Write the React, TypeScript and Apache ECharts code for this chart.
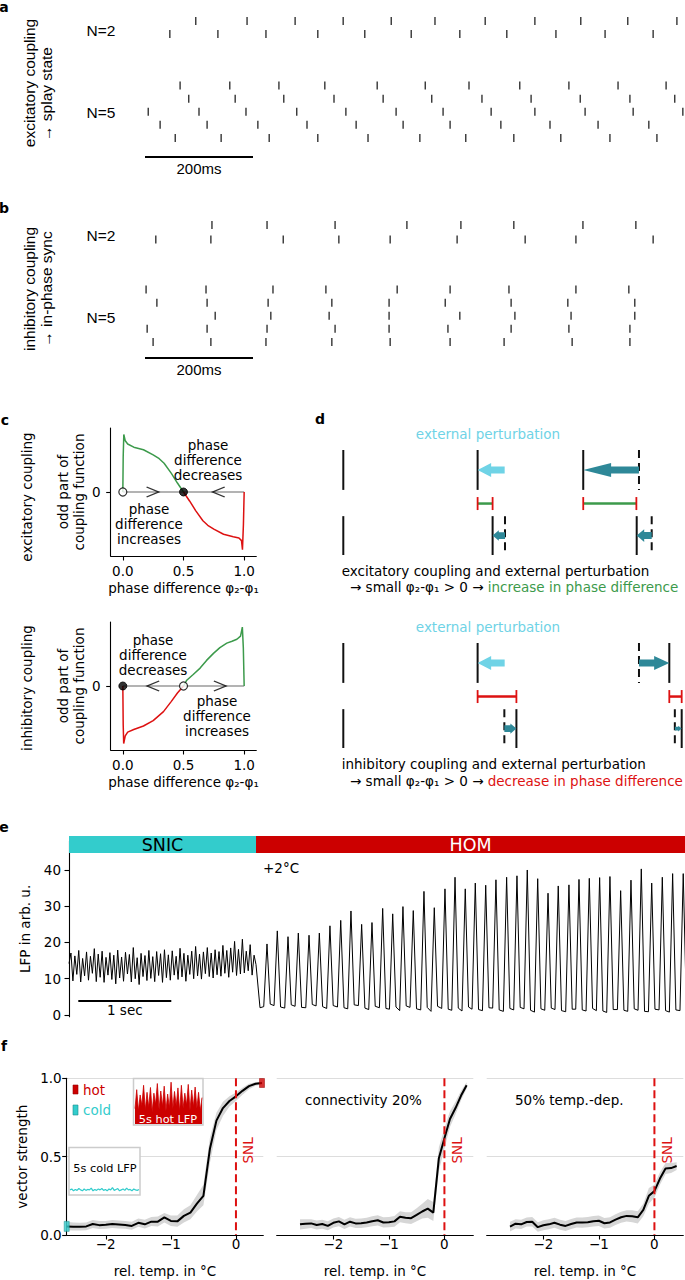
import React, { useEffect, useRef } from 'react';
import * as echarts from 'echarts';

const FONT = 'DejaVu Sans';
const AFONT = 'Liberation Sans';
const GREEN = '#3c9a4b';
const RED = '#dd1111';
const CYAN = '#6fd3e6';
const TEAL = '#2e8898';
const SNIC_C = '#33cccc';
const HOM_C = '#cc0000';

// ---------- panel a / b : spike times in ms ----------
const RASTER_MS = 1000;
const SCALE_MS = 200;
const aN2 = [
  [94, 189, 278, 367, 456, 537, 630, 722, 807, 894, 985],
  [46, 135, 224, 320, 407, 493, 583, 670, 761, 852, 941],
];
const aN5 = [
  [65, 157, 248, 333, 430, 519, 600, 694, 785, 876, 965],
  [81, 167, 257, 350, 441, 531, 624, 715, 806, 898, 981],
  [6, 100, 187, 281, 372, 465, 552, 641, 722, 815, 904, 996],
  [28, 115, 209, 300, 391, 478, 565, 659, 750, 839, 933],
  [56, 141, 230, 320, 413, 509, 594, 683, 770, 861, 948],
];
const bN2 = [
  [124, 226, 352, 485, 585, 683, 811, 909],
  [20, 122, 256, 359, 454, 578, 704, 798, 941],
];
const bN5 = [
  [2, 113, 237, 335, 467, 565, 674, 798, 896],
  [22, 115, 228, 346, 452, 556, 678, 783, 907],
  [130, 233, 341, 452, 583, 685, 789, 907],
  [4, 115, 226, 352, 452, 561, 678, 785, 898],
  [15, 122, 224, 346, 454, 565, 665, 791, 898],
];

// ---------- panel c : odd part of coupling function ----------
const cTicks = [0, 0.5, 1];
const cExcGreen = [[0, 0], [0.003, 0.55], [0.008, 0.9], [0.02, 0.8], [0.04, 0.75], [0.09, 0.7], [0.17, 0.66], [0.25, 0.58], [0.3, 0.52], [0.34, 0.45], [0.4, 0.29], [0.45, 0.14], [0.5, 0]];
const cExcRed = [[0.5, 0], [0.55, -0.14], [0.6, -0.29], [0.66, -0.45], [0.7, -0.52], [0.75, -0.58], [0.83, -0.66], [0.91, -0.7], [0.957, -0.72], [0.978, -0.76], [0.986, -0.9], [0.994, -0.5], [1.0, 0]];
const cInhRed = [[0, 0], [0.003, -0.6], [0.007, -0.9], [0.02, -0.78], [0.04, -0.72], [0.09, -0.68], [0.17, -0.625], [0.25, -0.54], [0.335, -0.4], [0.4, -0.24], [0.45, -0.11], [0.5, 0]];
const cInhGreen = [[0.5, 0], [0.527, 0.09], [0.58, 0.18], [0.637, 0.28], [0.69, 0.4], [0.747, 0.51], [0.8, 0.6], [0.857, 0.67], [0.9, 0.7], [0.94, 0.73], [0.97, 0.78], [0.985, 0.92], [0.993, 0.6], [1.0, 0]];
const cZeroLine = [[0, 0], [1, 0]];
const cExcOpen = [[0, 0]];
const cExcFilled = [[0.5, 0]];
const cInhOpen = [[0.5, 0]];
const cInhFilled = [[0, 0]];
const cExcRight = [[0.245, 0]];
const cExcLeft = [[0.79, 0]];
const cInhLeft = [[0.25, 0]];
const cInhRight = [[0.8, 0]];

// ---------- panel d : schematic spike positions (fraction of period) ----------
const dExcTop = [0, 0.412, 0.736];
const dExcTopGhost = [0.907];
const dExcBot = [0, 0.458, 0.9];
const dExcBotGhost = [0.496, 0.946];
const dExcIntervals = [[0.412, 0.458], [0.736, 0.899]];
const dExcExtArrow = [0.495, 0.412];
const dExcTopArrows = [[0.907, 0.736]];
const dExcBotArrows = [[0.496, 0.458], [0.946, 0.9]];

const dInhTop = [0, 0.412, 1.0];
const dInhTopGhost = [0.907];
const dInhBot = [0, 0.531, 1.038];
const dInhBotGhost = [0.494, 1.017];
const dInhIntervals = [[0.412, 0.531], [1.0, 1.038]];
const dInhExtArrow = [0.495, 0.412];
const dInhTopArrows = [[0.907, 1.0]];
const dInhBotArrows = [[0.494, 0.531], [1.017, 1.038]];

const D_ROW_TOP = [0, 0.38];
const D_ROW_BOT = [0.63, 1.0];
const D_MID = 0.51;
const D_ARROW_TOP = 0.19;
const D_ARROW_BOT = 0.815;

// ---------- panel e : LFP ----------
const E_T_MAX = 6.624;
const eStateStart = [0, 2.011];
const eStateEnd = [2.011, 6.624];
const eStateNames = ['SNIC', 'HOM'];
const eStateFill = [SNIC_C, HOM_C];
const eStateText = ['#000', '#fff'];
const eTicks = [0, 10, 20, 30, 40];
const SNIC_END = 2.011;
const snicLFP = [
  14.2, 17.1, 9.4, 16.3, 11.2, 17.8, 9.1, 15.6, 10.8, 17.4,
  9.6, 16.2, 11.5, 18.3, 9.2, 16.8, 10.4, 17.6, 9.0, 15.9,
  11.0, 17.2, 9.8, 16.5, 8.6, 17.9, 10.2, 16.0, 9.3, 17.3,
  11.3, 16.7, 9.1, 18.6, 10.0, 15.8, 8.4, 17.0, 10.6, 16.4,
  9.5, 17.8, 10.1, 16.1, 9.2, 17.5, 10.9, 16.9, 9.0, 18.0,
  10.3, 16.6, 9.6, 17.7, 11.0, 16.2, 9.8, 18.4, 10.5, 17.0,
  9.3, 16.5, 11.2, 17.6, 10.0, 18.9, 10.8, 16.8, 9.9, 17.4,
  11.4, 18.6, 10.6, 17.1, 10.2, 18.0, 11.1, 17.5, 10.7, 19.2,
  11.5, 17.8, 10.4, 18.5, 11.8, 20.3, 10.9, 18.1, 11.3, 20.9,
  11.6, 17.6, 12.2, 19.4, 11.0, 16.5, 13.9,
];
const homDrop = [2.054, 2.0];
const homPeakT = [2.129, 2.24, 2.355, 2.466, 2.581, 2.692, 2.806, 2.922, 3.032, 3.147, 3.258, 3.373, 3.481, 3.591, 3.702, 3.817, 3.928, 4.043, 4.151, 4.261, 4.369, 4.481, 4.591, 4.706, 4.817, 4.928, 5.04, 5.151, 5.261, 5.376, 5.484, 5.595, 5.706, 5.817, 5.932, 6.043, 6.154, 6.266, 6.38, 6.491, 6.605];
const homPeakV = [19.6, 23.2, 21.6, 22.6, 22.0, 22.6, 24.6, 26.1, 28.7, 25.0, 25.5, 29.4, 27.9, 29.9, 28.8, 34.1, 29.6, 34.8, 38.0, 34.8, 36.4, 35.8, 37.3, 38.0, 38.4, 40.0, 37.6, 33.6, 35.6, 35.9, 37.4, 37.7, 37.9, 38.2, 34.3, 37.2, 40.3, 36.4, 38.0, 39.0, 39.0];
const homLowBefore = [2.3, 2.6, 1.9, 2.4, 2.0, 2.5, 1.8, 2.2, 1.7, 2.6, 1.5, 2.0, 1.6, 1.2, 2.1, 1.4, 1.0, 1.8, 1.3, 1.1, 1.6, 1.2, 1.9, 1.0, 1.4, 1.7, 0.8, 1.3, 1.5, 0.9, 1.6, 1.1, 1.2, 0.7, 1.5, 1.0, 1.3, 0.9, 1.4, 0.8, 1.2];
const homLowAfter = [3.0, 2.2, 2.8, 2.1, 2.9, 2.3, 2.6, 2.0, 2.8, 1.9, 2.4, 1.8, 2.2, 2.5, 1.7, 2.1, 2.4, 1.6, 1.9, 2.2, 1.5, 2.0, 1.4, 1.8, 2.1, 1.3, 1.7, 1.9, 1.2, 1.6, 1.4, 1.8, 1.1, 1.5, 1.3, 1.7, 1.0, 1.6, 1.2, 1.4, 1.1];
const HOM_RISE = 0.035;
const HOM_FALL = 0.035;
const E_BAR_START = 0.1;
const E_BAR_LEN = 1;

// ---------- panel f : vector strength ----------
const fTemps = [-2.6, -2.5, -2.4, -2.3, -2.2, -2.1, -2.0, -1.9, -1.8, -1.7, -1.6, -1.5, -1.4, -1.3, -1.2, -1.1, -1.0, -0.9, -0.8, -0.7, -0.6, -0.5, -0.4, -0.3, -0.2, -0.1, 0.0, 0.1, 0.2, 0.3, 0.4];
const fXTicks = [-2, -1, 0];
const f1Mean = [0.055, 0.053, 0.052, 0.055, 0.07, 0.063, 0.065, 0.07, 0.067, 0.064, 0.058, 0.078, 0.068, 0.085, 0.085, 0.112, 0.09, 0.087, 0.122, 0.143, 0.2, 0.25, 0.55, 0.73, 0.81, 0.855, 0.885, 0.92, 0.95, 0.965, 0.97];
const f1Upper = [0.085, 0.08, 0.078, 0.08, 0.095, 0.09, 0.09, 0.095, 0.093, 0.09, 0.085, 0.105, 0.098, 0.115, 0.118, 0.14, 0.125, 0.125, 0.165, 0.19, 0.255, 0.32, 0.62, 0.78, 0.85, 0.885, 0.91, 0.94, 0.965, 0.975, 0.98];
const f1Lower = [0.03, 0.028, 0.028, 0.03, 0.045, 0.038, 0.04, 0.045, 0.042, 0.04, 0.033, 0.052, 0.042, 0.058, 0.055, 0.08, 0.058, 0.052, 0.08, 0.1, 0.15, 0.19, 0.46, 0.67, 0.76, 0.82, 0.855, 0.895, 0.93, 0.952, 0.96];
const f2Mean = [0.068, 0.072, 0.074, 0.064, 0.07, 0.058, 0.078, 0.087, 0.068, 0.085, 0.074, 0.075, 0.08, 0.088, 0.094, 0.08, 0.082, 0.087, 0.117, 0.11, 0.107, 0.128, 0.15, 0.168, 0.143, 0.49, 0.617, 0.74, 0.81, 0.89, 0.955];
const f2Upper = [0.1, 0.1, 0.1, 0.092, 0.098, 0.088, 0.105, 0.115, 0.097, 0.113, 0.103, 0.105, 0.11, 0.12, 0.126, 0.113, 0.115, 0.122, 0.152, 0.145, 0.145, 0.17, 0.2, 0.23, 0.21, 0.56, 0.68, 0.79, 0.85, 0.92, 0.975];
const f2Lower = [0.035, 0.04, 0.044, 0.035, 0.04, 0.03, 0.048, 0.056, 0.038, 0.055, 0.045, 0.045, 0.05, 0.056, 0.06, 0.048, 0.05, 0.052, 0.082, 0.075, 0.07, 0.088, 0.105, 0.11, 0.09, 0.41, 0.55, 0.69, 0.77, 0.86, 0.935];
const f3Mean = [0.053, 0.072, 0.068, 0.083, 0.085, 0.05, 0.062, 0.068, 0.078, 0.066, 0.058, 0.07, 0.08, 0.079, 0.082, 0.088, 0.091, 0.075, 0.08, 0.098, 0.113, 0.122, 0.12, 0.113, 0.16, 0.25, 0.28, 0.36, 0.425, 0.427, 0.44];
const f3Upper = [0.085, 0.1, 0.097, 0.112, 0.115, 0.082, 0.094, 0.1, 0.11, 0.098, 0.09, 0.102, 0.112, 0.111, 0.115, 0.121, 0.125, 0.108, 0.113, 0.132, 0.148, 0.158, 0.158, 0.152, 0.2, 0.3, 0.32, 0.4, 0.46, 0.46, 0.465];
const f3Lower = [0.022, 0.042, 0.038, 0.054, 0.055, 0.02, 0.03, 0.036, 0.046, 0.034, 0.026, 0.038, 0.048, 0.047, 0.049, 0.055, 0.057, 0.042, 0.047, 0.064, 0.078, 0.086, 0.082, 0.074, 0.12, 0.2, 0.24, 0.32, 0.39, 0.395, 0.415];
const SNL_T = 0;
const SNL_LABEL_Y = 0.54;
const hotLFP = [0.35, 0.78, 0.3, 0.66, 0.42, 0.88, 0.32, 0.72, 0.38, 0.83, 0.28, 0.7, 0.45, 0.92, 0.33, 0.75, 0.4, 0.86, 0.3, 0.68, 0.37, 0.95, 0.34, 0.74, 0.41, 0.82, 0.29, 0.88, 0.36, 0.7, 0.43, 0.9, 0.31, 0.77, 0.39, 0.84, 0.35, 0.72, 0.3, 0.6];
const coldLFP = [0.1, 0.12, 0.08, 0.11, 0.09, 0.13, 0.1, 0.08, 0.12, 0.09, 0.11, 0.1, 0.14, 0.08, 0.11, 0.09, 0.12, 0.1, 0.13, 0.09, 0.11, 0.08, 0.12, 0.1, 0.15, 0.09, 0.11, 0.13, 0.08, 0.1, 0.12, 0.09, 0.14, 0.1, 0.11, 0.08, 0.12, 0.1, 0.09, 0.11];

// ---------- layout ----------
const GRIDS = [
  { left: 145, top: 14.5, width: 540, height: 26 },      // 0 a N=2
  { left: 145, top: 79, width: 540, height: 65.5 },      // 1 a N=5
  { left: 145, top: 217.75, width: 540, height: 29 },    // 2 b N=2
  { left: 145, top: 283, width: 540, height: 65.5 },     // 3 b N=5
  { left: 110.7, top: 428, width: 145.6, height: 128 },  // 4 c exc
  { left: 110.7, top: 622, width: 145.6, height: 128 },  // 5 c inh
  { left: 343.3, top: 450, width: 326, height: 105 },    // 6 d exc
  { left: 343.3, top: 643, width: 326, height: 105 },    // 7 d inh
  { left: 69, top: 836, width: 616, height: 17 },        // 8 e state bar
  { left: 69, top: 841, width: 616, height: 175.8 },     // 9 e LFP
  { left: 66.7, top: 1078.3, width: 196.6, height: 156.7 }, // 10 f1
  { left: 276.7, top: 1078.3, width: 196.6, height: 156.7 }, // 11 f2
  { left: 486.7, top: 1078.3, width: 196.6, height: 156.7 }, // 12 f3
  { left: 135, top: 1080, width: 67, height: 44 },       // 13 hot inset
  { left: 70, top: 1148.5, width: 69, height: 46 },      // 14 cold inset
];

const AXLINE = { show: true, onZero: false, lineStyle: { color: '#000', width: 1.1 } };
const TICKSTYLE = { color: '#000', width: 1.1 };
const LBL = { color: '#000', fontFamily: FONT, fontSize: 13.5 };
const NAME_TS = { color: '#000', fontFamily: FONT, fontSize: 13.5, lineHeight: 15.5 };
const minus = (v: number) => (v < 0 ? '\u2212' + Math.abs(v) : String(v));

function hid(gi: number, min: number, max: number, inverse = false) {
  return { gridIndex: gi, type: 'value', min, max, inverse, show: false };
}

function rasterData(rows: number[][]) {
  const out: number[][] = [];
  rows.forEach((r, i) => r.forEach((t) => out.push([t, i + 0.5])));
  return out;
}

function arrowPts(tail: number[], tip: number[]) {
  const dir = Math.sign(tip[0] - tail[0]);
  const len = Math.abs(tip[0] - tail[0]);
  const hl = len / 2;
  const hh = Math.min(14, len * 0.85);
  const sh = Math.min(7, len * 0.55);
  const y = tip[1];
  const bx = tip[0] - dir * hl;
  return [[tail[0], y - sh / 2], [bx, y - sh / 2], [bx, y - hh / 2], [tip[0], y], [bx, y + hh / 2], [bx, y + sh / 2], [tail[0], y + sh / 2]];
}

function dItems(top: number[], topG: number[], bot: number[], botG: number[], iv: number[][], ext: number[], tA: number[][], bA: number[][]) {
  const items: number[][] = [];
  top.forEach((x) => items.push([0, x, 0]));
  topG.forEach((x) => items.push([1, x, 0]));
  bot.forEach((x) => items.push([2, x, 0]));
  botG.forEach((x) => items.push([3, x, 0]));
  iv.forEach(([a, b]) => items.push([4, a, b]));
  items.push([5, ext[0], ext[1]]);
  tA.forEach(([a, b]) => items.push([6, a, b]));
  bA.forEach(([a, b]) => items.push([7, a, b]));
  return items;
}

function dRender(ivColor: string) {
  return (params: any, api: any) => {
    const k = api.value(0);
    const a = api.value(1);
    const b = api.value(2);
    const c = (x: number, y: number) => api.coord([x, y]);
    if (k <= 3) {
      const [y0, y1] = k < 2 ? D_ROW_TOP : D_ROW_BOT;
      const p0 = c(a, y0);
      const p1 = c(a, y1);
      const style: any = { stroke: '#111', lineWidth: 2 };
      if (k % 2 === 1) style.lineDash = [8, 5];
      return { type: 'line', shape: { x1: p0[0], y1: p0[1], x2: p1[0], y2: p1[1] }, style };
    }
    if (k === 4) {
      const p0 = c(a, D_MID);
      const p1 = c(b, D_MID);
      return {
        type: 'group',
        children: [
          { type: 'line', shape: { x1: p0[0], y1: p0[1], x2: p1[0], y2: p1[1] }, style: { stroke: ivColor, lineWidth: 2.5 } },
          { type: 'line', shape: { x1: p0[0], y1: p0[1] - 6.5, x2: p0[0], y2: p0[1] + 6.5 }, style: { stroke: RED, lineWidth: 1.8 } },
          { type: 'line', shape: { x1: p1[0], y1: p1[1] - 6.5, x2: p1[0], y2: p1[1] + 6.5 }, style: { stroke: RED, lineWidth: 1.8 } },
        ],
      };
    }
    const y = k === 7 ? D_ARROW_BOT : D_ARROW_TOP;
    const tail = c(a, y);
    const tip = c(b, y);
    return { type: 'polygon', shape: { points: arrowPts(tail, tip) }, style: { fill: k === 5 ? CYAN : TEAL } };
  };
}

function zip(xs: number[], ys: number[]) {
  return xs.map((x, i) => [x, ys[i]]);
}

function lineS(i: number, data: number[][], color: string, width: number, z = 2, extra: any = {}) {
  return {
    type: 'line', xAxisIndex: i, yAxisIndex: i, data, symbol: 'none', showSymbol: false, silent: true, z,
    lineStyle: { color, width }, itemStyle: { color }, ...extra,
  };
}

function scatterS(i: number, data: number[][], symbol: string, size: any, itemStyle: any, z = 5) {
  return { type: 'scatter', xAxisIndex: i, yAxisIndex: i, data, symbol, symbolSize: size, itemStyle, silent: true, z };
}

function bandS(i: number, xs: number[], lo: number[], hi: number[]) {
  return {
    type: 'custom', xAxisIndex: i, yAxisIndex: i, silent: true, z: 1,
    data: [[xs[0], lo[0]]],
    renderItem: (params: any, api: any) => {
      const pts: number[][] = [];
      xs.forEach((x, j) => pts.push(api.coord([x, hi[j]])));
      for (let j = xs.length - 1; j >= 0; j--) pts.push(api.coord([xs[j], lo[j]]));
      return { type: 'polygon', shape: { points: pts }, style: { fill: '#d6d6d6' } };
    },
  };
}

function snlS(i: number) {
  return {
    type: 'custom', xAxisIndex: i, yAxisIndex: i, silent: true, z: 3,
    data: [[SNL_T, 1]],
    renderItem: (params: any, api: any) => {
      const top = api.coord([SNL_T, 1]);
      const bot = api.coord([SNL_T, 0]);
      const lab = api.coord([SNL_T, SNL_LABEL_Y]);
      return {
        type: 'group',
        children: [
          { type: 'line', shape: { x1: top[0], y1: top[1], x2: bot[0], y2: bot[1] }, style: { stroke: RED, lineWidth: 2, lineDash: [8, 4] } },
          { type: 'text', x: lab[0] + 12.5, y: lab[1], rotation: Math.PI / 2, style: { text: 'SNL', fill: RED, fontSize: 13.5, fontFamily: FONT, align: 'center', verticalAlign: 'middle' } },
        ],
      };
    },
  };
}

function cX(gi: number) {
  return {
    gridIndex: gi, type: 'value', min: -0.1, max: 1.1,
    axisLine: AXLINE,
    axisTick: { show: true, customValues: cTicks, length: 4.5, lineStyle: TICKSTYLE },
    axisLabel: { show: true, customValues: cTicks, formatter: (v: number) => v.toFixed(1), margin: 7.5, ...LBL },
    splitLine: { show: false },
    name: 'phase difference φ₂-φ₁', nameLocation: 'middle', nameGap: 24, nameTextStyle: NAME_TS,
  };
}
function cY(gi: number) {
  return {
    gridIndex: gi, type: 'value', min: -1, max: 1,
    axisLine: AXLINE,
    axisTick: { show: true, customValues: [0], length: 4.5, lineStyle: TICKSTYLE },
    axisLabel: { show: true, customValues: [0], margin: 10, ...LBL },
    splitLine: { show: false },
    name: 'odd part of\ncoupling function', nameLocation: 'middle', nameRotate: 90, nameGap: 24, nameTextStyle: NAME_TS,
  };
}
function fX(gi: number, min: number, max: number) {
  return {
    gridIndex: gi, type: 'value', min, max,
    axisLine: AXLINE,
    axisTick: { show: true, customValues: fXTicks, length: 4.5, lineStyle: TICKSTYLE },
    axisLabel: { show: true, customValues: fXTicks, formatter: minus, margin: 2, ...LBL },
    splitLine: { show: false },
    name: 'rel. temp. in °C', nameLocation: 'middle', nameGap: 28, nameTextStyle: NAME_TS,
  };
}
function fY(gi: number, vis: boolean) {
  return {
    gridIndex: gi, type: 'value', min: 0, max: 1, interval: 0.5,
    axisLine: { ...AXLINE, show: vis },
    axisTick: { show: vis, length: 4.5, lineStyle: TICKSTYLE },
    axisLabel: { show: vis, formatter: (v: number) => v.toFixed(1), margin: 5, ...LBL },
    splitLine: { show: true, lineStyle: { color: '#dddddd', width: 1 } },
    name: vis ? 'vector strength' : '', nameLocation: 'middle', nameRotate: 90, nameGap: 37, nameTextStyle: NAME_TS,
  };
}

function txt(text: string, x: number, y: number, o: any = {}) {
  const { rotation, z, ...style } = o;
  return {
    type: 'text', x, y, rotation: rotation || 0, z: z || 10,
    style: { text, fill: '#000', fontSize: 13.5, fontFamily: FONT, align: 'center', verticalAlign: 'middle', ...style },
  };
}

function buildOption() {
  const lfp: number[][] = [];
  const dt = SNIC_END / (snicLFP.length - 1);
  snicLFP.forEach((v, i) => lfp.push([i * dt, v]));
  lfp.push(homDrop);
  homPeakT.forEach((t, i) => {
    lfp.push([t - HOM_RISE, homLowBefore[i]]);
    lfp.push([t, homPeakV[i]]);
    lfp.push([t + HOM_FALL, homLowAfter[i]]);
  });

  const xAxes = [
    hid(0, 0, RASTER_MS), hid(1, 0, RASTER_MS), hid(2, 0, RASTER_MS), hid(3, 0, RASTER_MS),
    cX(4), cX(5),
    hid(6, 0, 1), hid(7, 0, 1),
    hid(8, 0, E_T_MAX), hid(9, 0, E_T_MAX),
    fX(10, -2.6, 0.42), fX(11, -3.02, 0.52), fX(12, -3.02, 0.52),
    hid(13, 0, hotLFP.length - 1), hid(14, 0, coldLFP.length - 1),
  ];
  const yAxes = [
    hid(0, 0, aN2.length, true), hid(1, 0, aN5.length, true), hid(2, 0, bN2.length, true), hid(3, 0, bN5.length, true),
    cY(4), cY(5),
    hid(6, 0, 1, true), hid(7, 0, 1, true),
    hid(8, 0, 1),
    {
      gridIndex: 9, type: 'value', min: -0.5, max: 48,
      axisLine: AXLINE,
      axisTick: { show: true, customValues: eTicks, length: 4.5, lineStyle: TICKSTYLE },
      axisLabel: { show: true, customValues: eTicks, margin: 8, ...LBL },
      splitLine: { show: false },
      name: 'LFP in arb. u.', nameLocation: 'middle', nameRotate: 90, nameGap: 35, nameTextStyle: NAME_TS,
    },
    fY(10, true), fY(11, false), fY(12, false),
    hid(13, 0, 1), hid(14, 0, 1),
  ];

  const tickSym = { color: '#000' };
  const series: any[] = [
    scatterS(0, rasterData(aN2), 'rect', [1.4, 8], tickSym),
    scatterS(1, rasterData(aN5), 'rect', [1.4, 8], tickSym),
    scatterS(2, rasterData(bN2), 'rect', [1.4, 8], tickSym),
    scatterS(3, rasterData(bN5), 'rect', [1.4, 8], tickSym),
  ];
  const openC = { color: '#fff', borderColor: '#000', borderWidth: 1.2 };
  const fillC = { color: '#000', borderColor: '#000', borderWidth: 1 };
  const chev = { color: 'transparent', borderColor: '#000', borderWidth: 1.5 };
  const RIGHT = 'path://M0,0L12,5L0,10';
  const LEFT = 'path://M12,0L0,5L12,10';
  // c exc
  series.push(lineS(4, cZeroLine, '#b3b3b3', 2, 1));
  series.push(lineS(4, cExcGreen, GREEN, 1.5));
  series.push(lineS(4, cExcRed, RED, 1.5));
  series.push(scatterS(4, cExcOpen, 'circle', 8, openC));
  series.push(scatterS(4, cExcFilled, 'circle', 8, fillC));
  series.push(scatterS(4, cExcRight, RIGHT, [12, 10], chev));
  series.push(scatterS(4, cExcLeft, LEFT, [12, 10], chev));
  // c inh
  series.push(lineS(5, cZeroLine, '#b3b3b3', 2, 1));
  series.push(lineS(5, cInhRed, RED, 1.5));
  series.push(lineS(5, cInhGreen, GREEN, 1.5));
  series.push(scatterS(5, cInhOpen, 'circle', 8, openC));
  series.push(scatterS(5, cInhFilled, 'circle', 8, fillC));
  series.push(scatterS(5, cInhLeft, LEFT, [12, 10], chev));
  series.push(scatterS(5, cInhRight, RIGHT, [12, 10], chev));
  // d
  series.push({
    type: 'custom', xAxisIndex: 6, yAxisIndex: 6, silent: true, z: 3, clip: false,
    data: dItems(dExcTop, dExcTopGhost, dExcBot, dExcBotGhost, dExcIntervals, dExcExtArrow, dExcTopArrows, dExcBotArrows),
    renderItem: dRender(GREEN),
  });
  series.push({
    type: 'custom', xAxisIndex: 7, yAxisIndex: 7, silent: true, z: 3, clip: false,
    data: dItems(dInhTop, dInhTopGhost, dInhBot, dInhBotGhost, dInhIntervals, dInhExtArrow, dInhTopArrows, dInhBotArrows),
    renderItem: dRender(RED),
  });
  // e state bar
  series.push({
    type: 'custom', xAxisIndex: 8, yAxisIndex: 8, silent: true, z: 4,
    data: zip(eStateStart, eStateEnd),
    renderItem: (params: any, api: any) => {
      const idx = params.dataIndex;
      const p0 = api.coord([api.value(0), 1]);
      const p1 = api.coord([api.value(1), 0]);
      return {
        type: 'group',
        children: [
          { type: 'rect', shape: { x: p0[0], y: p0[1], width: p1[0] - p0[0], height: p1[1] - p0[1] }, style: { fill: eStateFill[idx] } },
          { type: 'text', x: (p0[0] + p1[0]) / 2, y: (p0[1] + p1[1]) / 2 + 0.5, style: { text: eStateNames[idx], fill: eStateText[idx], fontSize: 17.5, fontFamily: FONT, align: 'center', verticalAlign: 'middle' } },
        ],
      };
    },
  });
  // e LFP
  series.push(lineS(9, lfp, '#000', 1));
  // f
  const hotMark = { color: HOM_C, borderColor: '#990000', borderWidth: 0.6 };
  const coldMark = { color: SNIC_C, borderColor: '#1b8f8f', borderWidth: 0.6 };
  series.push(bandS(10, fTemps, f1Lower, f1Upper));
  series.push(lineS(10, zip(fTemps, f1Mean), '#000', 2));
  series.push(snlS(10));
  series.push(scatterS(10, [[fTemps[fTemps.length - 1], f1Mean[f1Mean.length - 1]]], 'rect', [5, 9], hotMark));
  series.push(scatterS(10, [[fTemps[0], f1Mean[0]]], 'rect', [5, 10], coldMark));
  series.push(bandS(11, fTemps, f2Lower, f2Upper));
  series.push(lineS(11, zip(fTemps, f2Mean), '#000', 2));
  series.push(snlS(11));
  series.push(bandS(12, fTemps, f3Lower, f3Upper));
  series.push(lineS(12, zip(fTemps, f3Mean), '#000', 2));
  series.push(snlS(12));
  series.push(lineS(13, hotLFP.map((v, i) => [i, v]), HOM_C, 0.8, 4, { areaStyle: { color: HOM_C, opacity: 1 } }));
  series.push(lineS(14, coldLFP.map((v, i) => [i, v]), SNIC_C, 1.2, 4));

  // scale bars (derived from grid layout + ms)
  const aPxPerMs = GRIDS[0].width / RASTER_MS;
  const ePxPerS = GRIDS[9].width / E_T_MAX;
  const sbA0 = GRIDS[0].left;
  const sbA1 = GRIDS[0].left + SCALE_MS * aPxPerMs;
  const sbE0 = GRIDS[9].left + E_BAR_START * ePxPerS;
  const sbE1 = sbE0 + E_BAR_LEN * ePxPerS;

  const A = { fontFamily: AFONT, fontSize: 15.5 };
  const bold = { fontWeight: 'bold', fontSize: 14 };
  const R = Math.PI / 2;
  const elements: any[] = [
    // panel letters
    txt('a', 4, 7, bold), txt('b', 4, 208, bold), txt('c', 5, 420, bold),
    txt('d', 320, 419, bold), txt('e', 4, 827, bold), txt('f', 4, 1046, bold),
    // a
    txt('excitatory coupling', 29, 83, { ...A, rotation: R }),
    txt('→ splay state', 46, 94, { ...A, rotation: R }),
    txt('N=2', 86.5, 30, { ...A, align: 'left' }),
    txt('N=5', 86.5, 112, { ...A, align: 'left' }),
    { type: 'line', shape: { x1: sbA0, y1: 157, x2: sbA1, y2: 157 }, style: { stroke: '#000', lineWidth: 2 } },
    txt('200ms', (sbA0 + sbA1) / 2, 168, { ...A, fontSize: 15 }),
    // b
    txt('inhibitory coupling', 29, 289, { ...A, rotation: R }),
    txt('→ in-phase sync', 46, 289, { ...A, rotation: R }),
    txt('N=2', 86.5, 235.5, { ...A, align: 'left' }),
    txt('N=5', 86.5, 317, { ...A, align: 'left' }),
    { type: 'line', shape: { x1: sbA0, y1: 358, x2: sbA1, y2: 358 }, style: { stroke: '#000', lineWidth: 2 } },
    txt('200ms', (sbA0 + sbA1) / 2, 369, { ...A, fontSize: 15 }),
    // c
    txt('excitatory coupling', 27, 497, { rotation: R }),
    txt('inhibitory coupling', 27, 688, { rotation: R }),
    txt('phase\ndifference\ndecreases', 208, 460, { lineHeight: 15 }),
    txt('phase\ndifference\nincreases', 149, 523.5, { lineHeight: 15 }),
    txt('phase\ndifference\ndecreases', 153, 654.5, { lineHeight: 15 }),
    txt('phase\ndifference\nincreases', 217, 716, { lineHeight: 15 }),
    // d
    txt('external perturbation', 488, 434, { fill: CYAN }),
    txt('excitatory coupling and external perturbation', 341.7, 571, { align: 'left' }),
    {
      type: 'text', x: 350, y: 587, z: 10,
      style: {
        text: '{k|→ small φ₂-φ₁ > 0 → }{g|increase in phase difference}', align: 'left', verticalAlign: 'middle',
        fontSize: 13.5, fontFamily: FONT,
        rich: { k: { fill: '#000', fontSize: 13.5, fontFamily: FONT }, g: { fill: GREEN, fontSize: 13.5, fontFamily: FONT } },
      },
    },
    txt('external perturbation', 488, 627, { fill: CYAN }),
    txt('inhibitory coupling and external perturbation', 341.7, 764, { align: 'left' }),
    {
      type: 'text', x: 350, y: 780.7, z: 10,
      style: {
        text: '{k|→ small φ₂-φ₁ > 0 → }{r|decrease in phase difference}', align: 'left', verticalAlign: 'middle',
        fontSize: 13.5, fontFamily: FONT,
        rich: { k: { fill: '#000', fontSize: 13.5, fontFamily: FONT }, r: { fill: RED, fontSize: 13.5, fontFamily: FONT } },
      },
    },
    // e
    txt('+2°C', 263, 868, { align: 'left' }),
    { type: 'line', shape: { x1: sbE0, y1: 1001, x2: sbE1, y2: 1001 }, style: { stroke: '#000', lineWidth: 2 } },
    txt('1 sec', (sbE0 + sbE1) / 2, 1010),
    // f legend + insets
    { type: 'rect', z: 6, shape: { x: 73, y: 1085, width: 5, height: 9 }, style: { fill: HOM_C, stroke: '#990000', lineWidth: 0.6 } },
    txt('hot', 83, 1090, { align: 'left', fill: HOM_C }),
    { type: 'rect', z: 6, shape: { x: 73, y: 1105, width: 5, height: 10 }, style: { fill: SNIC_C, stroke: '#1b8f8f', lineWidth: 0.6 } },
    txt('cold', 83, 1110, { align: 'left', fill: SNIC_C }),
    { type: 'rect', z: 3, shape: { x: 133.5, y: 1078.5, width: 69.5, height: 46.5 }, style: { fill: '#fff', stroke: '#cccccc', lineWidth: 1.5 } },
    { type: 'rect', z: 3, shape: { x: 69, y: 1147.5, width: 71, height: 47.5 }, style: { fill: '#fff', stroke: '#cccccc', lineWidth: 1.5 } },
    txt('5s hot LFP', 168, 1119, { fill: '#fff', fontSize: 11.3 }),
    txt('5s cold LFP', 105, 1168, { fontSize: 11.3 }),
    txt('connectivity 20%', 305, 1100, { align: 'left' }),
    txt('50% temp.-dep.', 515, 1100, { align: 'left' }),
  ];

  return {
    animation: false,
    backgroundColor: '#fff',
    textStyle: { fontFamily: FONT },
    grid: GRIDS.map((g) => ({ ...g, containLabel: false, outerBoundsMode: 'none', show: false })),
    xAxis: xAxes,
    yAxis: yAxes,
    series,
    graphic: { elements },
  };
}

export default function App() {
  const ref = useRef<HTMLDivElement>(null);
  useEffect(() => {
    const chart = echarts.init(ref.current as HTMLDivElement, null, { renderer: 'svg' });
    chart.setOption(buildOption() as any);
    return () => chart.dispose();
  }, []);
  return <div ref={ref} style={{ position: 'absolute', left: 0, top: 0, width: 685, height: 1280, background: '#fff' }} />;
}
